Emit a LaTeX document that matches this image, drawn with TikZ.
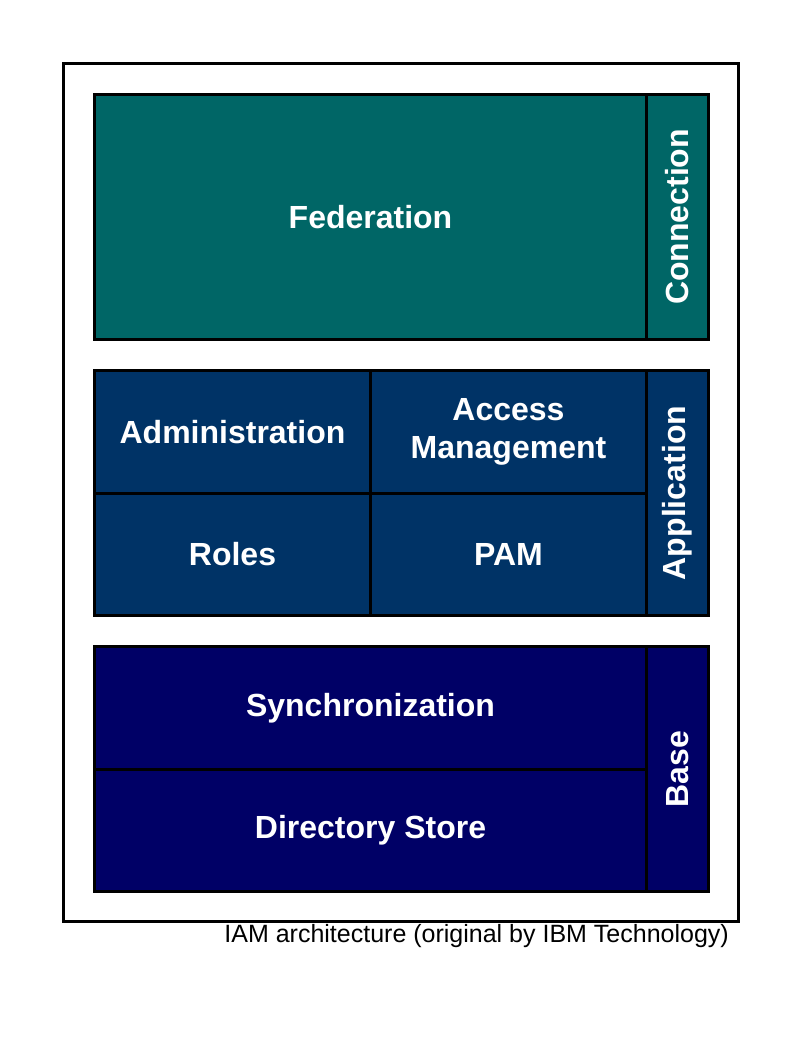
\documentclass[tikz,border=0pt]{standalone}
\usepackage{fontspec}
\setmainfont{Liberation Sans}
\usepackage{tikz}
\usetikzlibrary{positioning}
\definecolor{connteal}{RGB}{0, 102, 102}
\definecolor{appblue}{RGB}{0, 51, 102}
\definecolor{basenavy}{RGB}{0, 0, 102}

\begin{document}
\begin{tikzpicture}[x=1pt, y=-1pt,
    block/.style={draw, line width=3pt, anchor=north west, inner sep=0pt, align=center,
        text=white, font=\fontsize{32}{38}\selectfont\bfseries},
    side/.style={block, anchor=north west, minimum width=62pt, minimum height=245pt}]
\useasboundingbox (0,0) rectangle (800,1045);
\node[draw, line width=3pt, anchor=north west, minimum width=675pt, minimum height=858pt] (frame) at (62,62) {};
% connection layer
\node[block, fill=connteal, minimum width=552pt, minimum height=245pt] (fed) at (93,93) {Federation};
\node[side, fill=connteal] (conn) at (645,93) {};
\node[rotate=90, text=white, font=\fontsize{32}{38}\selectfont\bfseries] at (conn.center) {Connection};
% application layer
\node[block, fill=appblue, minimum width=276pt, minimum height=122.5pt] (admin) at (93,369) {Administration};
\node[block, fill=appblue, minimum width=276pt, minimum height=122.5pt] (access) at (369,369) {Access\\Management};
\node[block, fill=appblue, minimum width=276pt, minimum height=122.5pt] (roles) at (93,491.5) {Roles};
\node[block, fill=appblue, minimum width=276pt, minimum height=122.5pt] (pam) at (369,491.5) {PAM};
\node[side, fill=appblue] (app) at (645,369) {};
\node[rotate=90, text=white, font=\fontsize{32}{38}\selectfont\bfseries] at (app.center) {Application};
% base layer
\node[block, fill=basenavy, minimum width=552pt, minimum height=122.5pt] (sync) at (93,645) {Synchronization};
\node[block, fill=basenavy, minimum width=552pt, minimum height=122.5pt] (dir) at (93,767.5) {Directory Store};
\node[side, fill=basenavy] (base) at (645,645) {};
\node[rotate=90, text=white, font=\fontsize{32}{38}\selectfont\bfseries] at (base.center) {Base};
\node[anchor=north east, inner sep=0pt, font=\fontsize{25}{30}\selectfont] (caption) at (729,924) {IAM architecture (original by IBM Technology)};
\end{tikzpicture}
\end{document}
